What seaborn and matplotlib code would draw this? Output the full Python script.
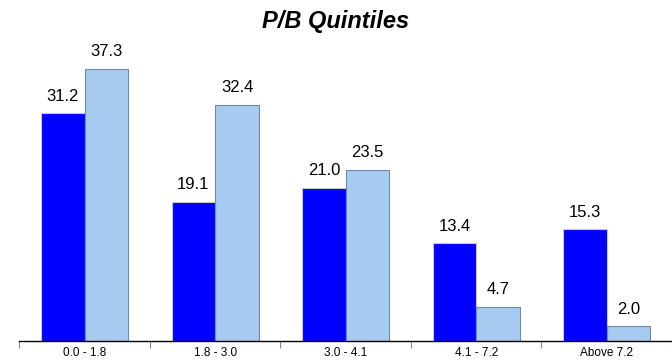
import pandas as pd
import matplotlib
matplotlib.use("Agg")
import matplotlib.pyplot as plt
import seaborn as sns

# Data
categories = ["0.0 - 1.8", "1.8 - 3.0", "3.0 - 4.1", "4.1 - 7.2", "Above 7.2"]
series_a = [31.2, 19.1, 21.0, 13.4, 15.3]
series_b = [37.3, 32.4, 23.5, 4.7, 2.0]
series_names = ["A", "B"]

df = pd.DataFrame({
    "Quintile": categories * 2,
    "Value": series_a + series_b,
    "Series": [series_names[0]] * len(categories) + [series_names[1]] * len(categories),
})

sns.set_style("white")
plt.rcParams['font.family'] = ['Liberation Sans', 'DejaVu Sans']
plt.rcParams['text.color'] = 'black'
plt.rcParams['xtick.color'] = 'black'

fig = plt.figure(figsize=(6.72, 3.62), dpi=100)
ax = fig.add_axes([0.029, 0.058, 0.971, 0.806])

palette = {"A": "#0000FF", "B": "#A6CAF0"}
sns.barplot(data=df, x="Quintile", y="Value", hue="Series", palette=palette,
            width=0.67, saturation=1, ax=ax, legend=False)

for container, col in zip(ax.containers, ["#C8C8C8", "#6F89A8"]):
    for bar in container:
        bar.set_edgecolor(col)
        bar.set_linewidth(0.8)
    ax.bar_label(container, fmt="%.1f", padding=7, fontsize=12, color="black")

ax.set_xlim(-0.5, len(categories) - 0.5)
ax.set_ylim(0, 40)
ax.set_xlabel("")
ax.set_ylabel("")
ax.set_yticks([])
for s in ["top", "left", "right"]:
    ax.spines[s].set_visible(False)
ax.spines["bottom"].set_color("black")
ax.spines["bottom"].set_linewidth(1)

ax.set_xticks(range(len(categories)))
ax.set_xticklabels(categories, fontsize=8.5, color="black")
ax.tick_params(axis="x", which="major", length=0, pad=4)
ax.set_xticks([i - 0.5 for i in range(len(categories) + 1)], minor=True)
ax.tick_params(axis="x", which="minor", length=5, width=0.8, color="#888888", bottom=True)

fig.text(0.5, 0.94, "P/B Quintiles", ha="center", va="center", color="black",
         fontsize=17, fontweight="bold", fontstyle="italic")

fig.savefig("out.png", dpi=100)
